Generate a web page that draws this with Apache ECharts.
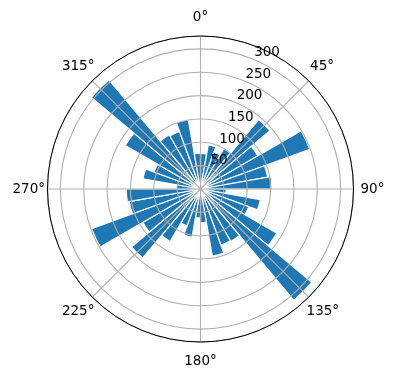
<!DOCTYPE html>
<html>
<head>
<meta charset="utf-8">
<script src="https://cdn.jsdelivr.net/npm/echarts@6/dist/echarts.min.js"></script>
<style>
    html, body { margin: 0; padding: 0; background: #fff; }
    #rose { width: 396px; height: 380px; }
</style>
</head>
<body>
<div id="rose"></div>
<script>
// bin centres (degrees, clockwise from north) and counts per bin
const binCenters = [5, 15, 25, 35, 45, 55, 65, 75, 85, 95, 105, 115, 125, 135, 145, 155, 165, 175,
    185, 195, 205, 215, 225, 235, 245, 255, 265, 275, 285, 295, 305, 315, 325, 335, 345, 355];
const counts = [76, 96, 84, 100, 194, 142, 249, 146, 153, 55, 130, 110, 189, 311, 130, 128, 146, 72,
    62, 105, 84, 130, 193, 143, 248, 155, 159, 52, 125, 106, 186, 305, 134, 131, 151, 77];
const radiusTicks = [50, 100, 150, 200, 250, 300];
const thetaTicks = [0, 45, 90, 135, 180, 225, 270, 315];
const rMax = 327.6;

let chart = echarts.init(document.getElementById('rose'));
const center = [200.5, 189],
    R = 153,
    gridColor = '#b0b0b0',
    font = 'DejaVu Sans',
    fontSize = 13.5;

// padding per angle label [top, right, bottom, left] so they sit ~19px outside the rim
const labelPad = [
    [0, 0, 15, 0], [0, 0, 9, 3.5], [0, 0, 0, 10], [9, 0, 0, 0],
    [15, 0, 0, 0], [9, 0, 0, 0], [0, 5.5, 0, 0], [0, 0, 9, 0]
];
let rich = {};
labelPad.forEach((p, i) => {
    rich['t' + i] = { padding: p, fontSize: fontSize, fontFamily: font, color: '#000' };
});

let option = {
    animation: false,
    polar: [
        { center: center, radius: R },
        { center: center, radius: R },
        { center: [201.7, 182.6], radius: R }
    ],
    angleAxis: [
        {
            polarIndex: 0, type: 'category', data: binCenters, startAngle: 90, clockwise: true,
            axisLine: { show: false }, axisTick: { show: false }, axisLabel: { show: false },
            splitLine: { show: false }
        },
        {
            polarIndex: 1, type: 'value', min: 0, max: 360, interval: 45, startAngle: 90, clockwise: true,
            z: 11,
            axisLine: { lineStyle: { color: '#000', width: 1 } },
            axisTick: { show: false },
            axisLabel: {
                margin: -3,
                fontSize: fontSize, fontFamily: font, color: '#000',
                formatter: function (v) {
                    const i = thetaTicks.indexOf(v);
                    return i < 0 ? '' : '{t' + i + '|' + v + '°}';
                },
                rich: rich
            },
            splitLine: { lineStyle: { color: gridColor, width: 1.1 } }
        },
        {
            polarIndex: 2, type: 'value', min: 0, max: 360, startAngle: 68, clockwise: true, show: false
        }
    ],
    radiusAxis: [
        { polarIndex: 0, min: 0, max: rMax, show: false },
        {
            polarIndex: 1, min: 0, max: rMax, interval: 50, z: 10,
            axisLine: { show: false }, axisTick: { show: false }, axisLabel: { show: false },
            splitLine: { lineStyle: { color: gridColor, width: 1.1 } }
        },
        {
            polarIndex: 2, min: 0, max: rMax, interval: 50, z: 12,
            axisLine: { show: false }, axisTick: { show: false }, splitLine: { show: false },
            axisLabel: {
                margin: 0, align: 'left', verticalAlign: 'middle',
                fontSize: fontSize, fontFamily: font, color: '#000',
                formatter: v => radiusTicks.includes(v) ? String(v) : ''
            }
        }
    ],
    series: [
        {
            type: 'bar',
            coordinateSystem: 'polar',
            polarIndex: 0,
            data: counts,
            barCategoryGap: '0%',
            itemStyle: { color: '#1f77b4', borderColor: '#fff', borderWidth: 1.2 },
            z: 2
        }
    ]
};

chart.setOption(option);
</script>
</body>
</html>
